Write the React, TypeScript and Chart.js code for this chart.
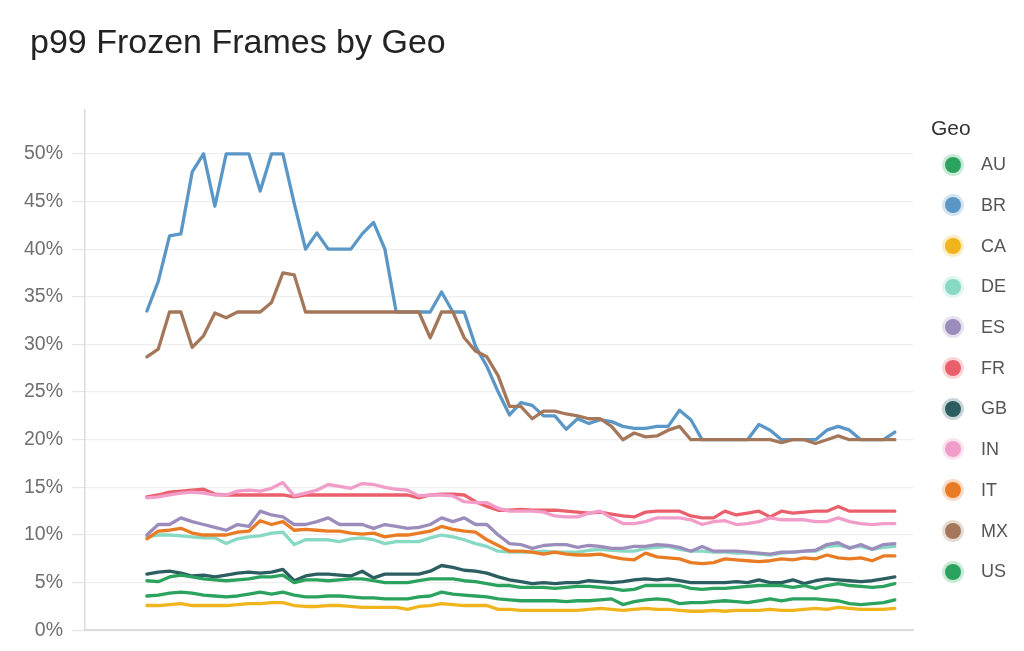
import React, { useEffect, useRef } from "react";
import { Chart, registerables } from "chart.js";

Chart.register(...registerables);

const GEOS = ["AU", "BR", "CA", "DE", "ES", "FR", "GB", "IN", "IT", "MX", "US"];
const COLORS = ["#2ba25d", "#5b97c6", "#f0b41c", "#88d9c4", "#9c8cbc", "#ea5f6c", "#2c5d61", "#f19cc9", "#ea7b25", "#a5775a", "#2ba25d"];
const HALOS = ["#c9ead5", "#d4e4f1", "#fbecc4", "#dff5ef", "#e5e1ee", "#f9d5d8", "#c8d6d7", "#fbe4f0", "#f9dcc6", "#e7dcd4", "#c9ead5"];

const AU = [3.6,3.7,3.9,4.0,3.9,3.7,3.6,3.5,3.6,3.8, 4.0,3.8,4.0,3.7,3.5,3.5,3.6,3.6,3.5,3.4, 3.4,3.3,3.3,3.3,3.5,3.6,4.0,3.8,3.7,3.6, 3.5,3.3,3.2,3.1,3.1,3.1,3.1,3.0,3.1,3.1, 3.2,3.3,2.7,3.0,3.2,3.3,3.2,2.8,2.9,2.9, 3.0,3.1,3.0,2.9,3.1,3.3,3.1,3.3,3.3,3.3, 3.2,3.1,2.8,2.7,2.8,2.9,3.2];
const BR = [33.5,36.6,41.4,41.6,48.1,50,44.5,50,50,50, 46.1,50,50,44.8,40,41.7,40,40,40,41.6, 42.8,40,33.4,33.4,33.4,33.4,35.5,33.4,33.4,29.8, 27.7,25,22.6,23.9,23.6,22.5,22.5,21.1,22.2,21.7, 22.1,21.9,21.4,21.2,21.2,21.4,21.4,23.1,22.1,20, 20,20,20,20,21.6,21,20,20,20,20, 21,21.4,21,20,20,20,20.8];
const CA = [2.6,2.6,2.7,2.8,2.6,2.6,2.6,2.6,2.7,2.8, 2.8,2.9,2.9,2.6,2.5,2.5,2.6,2.6,2.5,2.4, 2.4,2.4,2.4,2.2,2.5,2.6,2.8,2.7,2.6,2.6, 2.6,2.2,2.2,2.1,2.1,2.1,2.1,2.1,2.1,2.2, 2.3,2.2,2.1,2.2,2.3,2.2,2.2,2.1,2.0,2.0, 2.1,2.0,2.1,2.1,2.1,2.2,2.1,2.1,2.2,2.3, 2.2,2.4,2.3,2.2,2.2,2.2,2.3];
const DE = [9.8,10.0,10.0,9.9,9.8,9.7,9.7,9.1,9.6,9.8, 9.9,10.2,10.3,9.0,9.5,9.5,9.5,9.3,9.6,9.7, 9.5,9.1,9.3,9.3,9.3,9.7,10.0,9.8,9.5,9.1, 8.8,8.3,8.2,8.2,8.2,8.3,8.2,8.2,8.2,8.4, 8.5,8.4,8.3,8.3,8.6,8.7,8.8,8.5,8.3,8.3, 8.2,8.2,8.1,8.1,8.0,7.9,8.1,8.2,8.3,8.3, 8.8,8.9,8.7,8.8,8.5,8.7,8.8];
const ES = [10.0,11.1,11.1,11.8,11.4,11.1,10.8,10.5,11.1,10.9, 12.5,12.1,11.9,11.1,11.1,11.4,11.8,11.1,11.1,11.1, 10.7,11.1,10.9,10.7,10.8,11.1,11.8,11.4,11.8,11.1, 11.1,10.0,9.1,9.0,8.6,8.9,9.0,9.0,8.7,8.9, 8.8,8.6,8.6,8.8,8.8,9.0,8.9,8.7,8.3,8.8, 8.3,8.3,8.3,8.2,8.1,8.0,8.2,8.2,8.3,8.4, 9.0,9.2,8.6,9.0,8.5,9.0,9.1];
const FR = [14.0,14.2,14.5,14.6,14.7,14.8,14.3,14.2,14.2,14.2, 14.2,14.2,14.2,14.0,14.2,14.2,14.2,14.2,14.2,14.2, 14.2,14.2,14.2,14.2,13.9,14.2,14.3,14.3,14.2,13.5, 13.0,12.6,12.6,12.7,12.6,12.6,12.6,12.5,12.4,12.3, 12.4,12.2,12.0,11.9,12.4,12.5,12.5,12.5,12.0,11.8, 11.8,12.5,12.1,12.3,12.5,11.9,12.5,12.3,12.4,12.5, 12.5,13.0,12.5,12.5,12.5,12.5,12.5];
const GB = [5.9,6.1,6.2,6.0,5.7,5.8,5.6,5.8,6.0,6.1, 6.0,6.1,6.4,5.2,5.7,5.9,5.9,5.8,5.7,6.2, 5.5,5.9,5.9,5.9,5.9,6.2,6.8,6.6,6.3,6.2, 6.0,5.6,5.3,5.1,4.9,5.0,4.9,5.0,5.0,5.2, 5.1,5.0,5.1,5.3,5.4,5.3,5.4,5.2,5.0,5.0, 5.0,5.0,5.1,5.0,5.3,5.0,5.0,5.3,4.9,5.2, 5.4,5.3,5.2,5.1,5.2,5.4,5.6];
const IN = [13.9,14.0,14.2,14.4,14.5,14.4,14.2,14.2,14.6,14.7, 14.6,14.9,15.5,14.1,14.4,14.7,15.3,15.1,14.9,15.4, 15.3,15.0,14.8,14.7,14.1,14.2,14.2,14.1,13.5,13.4, 13.4,12.8,12.5,12.5,12.5,12.4,12.0,11.9,11.9,12.3, 12.5,11.8,11.2,11.2,11.4,11.8,11.8,11.8,11.6,11.1, 11.4,11.5,11.1,11.2,11.4,11.8,11.6,11.6,11.6,11.4, 11.4,11.8,11.4,11.2,11.1,11.2,11.2];
const IT = [9.6,10.4,10.5,10.7,10.2,10.0,10.0,10.0,10.3,10.4, 11.5,11.1,11.4,10.5,10.6,10.5,10.4,10.4,10.2,10.1, 10.2,9.8,10.0,10.0,10.2,10.4,10.9,10.6,10.4,10.3, 9.5,8.9,8.3,8.3,8.2,8.0,8.2,8.0,7.9,7.9, 8.0,7.7,7.5,7.4,8.1,7.7,7.6,7.5,7.1,7.0, 7.1,7.5,7.4,7.3,7.2,7.3,7.5,7.4,7.6,7.5, 7.9,7.6,7.5,7.6,7.3,7.8,7.8];
const MX = [28.7,29.5,33.4,33.4,29.7,30.9,33.3,32.8,33.4,33.4, 33.4,34.4,37.5,37.3,33.4,33.4,33.4,33.4,33.4,33.4, 33.4,33.4,33.4,33.4,33.4,30.7,33.4,33.4,30.7,29.3, 28.7,26.7,23.5,23.5,22.2,23.0,23.0,22.7,22.5,22.2, 22.2,21.4,20.0,20.7,20.3,20.4,21.0,21.4,20.0,20.0, 20.0,20.0,20.0,20.0,20.0,20.0,19.7,20.0,20.0,19.6, 20.0,20.4,20.0,20.0,20.0,20.0,20.0];
const US = [5.2,5.1,5.6,5.8,5.6,5.4,5.3,5.2,5.3,5.4, 5.6,5.6,5.8,5.0,5.3,5.3,5.2,5.3,5.4,5.4, 5.2,5.0,5.0,5.0,5.2,5.4,5.4,5.4,5.2,5.1, 4.9,4.7,4.7,4.5,4.5,4.5,4.4,4.5,4.6,4.6, 4.5,4.4,4.2,4.3,4.7,4.7,4.7,4.7,4.4,4.3, 4.4,4.4,4.5,4.6,4.7,4.7,4.7,4.5,4.7,4.4, 4.7,4.9,4.7,4.6,4.5,4.6,4.9];

const SERIES_VALUES = [AU, BR, CA, DE, ES, FR, GB, IN, IT, MX, US];
const DAYS = BR.map((_, i) => i);

const TITLE = "p99 Frozen Frames by Geo";
const LEGEND_TITLE = "Geo";

const FONT = "'Liberation Sans', Arial, Helvetica, sans-serif";

export default function App() {
  const canvasRef = useRef<HTMLCanvasElement | null>(null);

  useEffect(() => {
    const canvas = canvasRef.current;
    if (!canvas) return;
    const datasets = GEOS.map((geo, k) => ({
      label: geo,
      data: DAYS.map((d, i) => ({ x: d, y: SERIES_VALUES[k][i] })),
      borderColor: COLORS[k],
      backgroundColor: COLORS[k],
      borderWidth: 3.3,
      pointRadius: 0,
      tension: 0,
      borderJoinStyle: "round" as const,
      borderCapStyle: "round" as const,
    })).reverse();

    const chart = new Chart(canvas, {
      type: "line",
      data: { datasets },
      options: {
        animation: false,
        responsive: false,
        devicePixelRatio: 1,
        layout: { padding: { top: 110, bottom: 19, right: 111, left: 0 } },
        plugins: {
          legend: { display: false },
          title: { display: false },
          tooltip: { enabled: false },
        },
        scales: {
          x: {
            type: "linear",
            min: -5.46,
            max: 67.6,
            ticks: { display: false },
            grid: { display: false },
            border: { display: true, color: "#dcdcdc", width: 2 },
            afterFit: (s: any) => { s.height = 0; },
          },
          y: {
            type: "linear",
            min: 0,
            max: 54.6,
            ticks: {
              stepSize: 5,
              includeBounds: false,
              padding: 9,
              color: "#707070",
              font: { family: FONT, size: 19.5 },
              callback: (v: any) => v + "%",
            },
            grid: { color: "#eeeeee", lineWidth: 1.2, tickLength: 13, tickColor: "#e6e6e6" },
            border: { display: true, color: "#dcdcdc", width: 1.5 },
            afterFit: (s: any) => { s.width = 85; },
          },
        },
      },
    });
    return () => chart.destroy();
  }, []);

  const rowY = (k: number) => 164.5 + k * 40.7;

  return (
    <div style={{ position: "fixed", left: 0, top: 0, width: 1024, height: 651, background: "#fff", overflow: "hidden" }}>
      <canvas ref={canvasRef} width={1024} height={651} style={{ position: "absolute", left: 0, top: 0, width: 1024, height: 651 }} />
      <div style={{ position: "absolute", left: 30, top: 24, fontFamily: FONT, fontSize: 34, lineHeight: "34px", color: "#232323", whiteSpace: "nowrap" }}>
        {TITLE}
      </div>
      <div style={{ position: "absolute", left: 931, top: 117, fontFamily: FONT, fontSize: 21, lineHeight: "21px", color: "#333", whiteSpace: "nowrap" }}>
        {LEGEND_TITLE}
      </div>
      {GEOS.map((geo, k) => (
        <React.Fragment key={geo}>
          <div style={{
            position: "absolute", left: 945, top: rowY(k) - 8, width: 16, height: 16, borderRadius: "50%",
            background: COLORS[k], boxShadow: `0 0 0 3px ${HALOS[k]}`,
          }} />
          <div style={{ position: "absolute", left: 981, top: rowY(k) - 10.3, fontFamily: FONT, fontSize: 18, lineHeight: "21px", color: "#555", whiteSpace: "nowrap" }}>
            {geo}
          </div>
        </React.Fragment>
      ))}
    </div>
  );
}
